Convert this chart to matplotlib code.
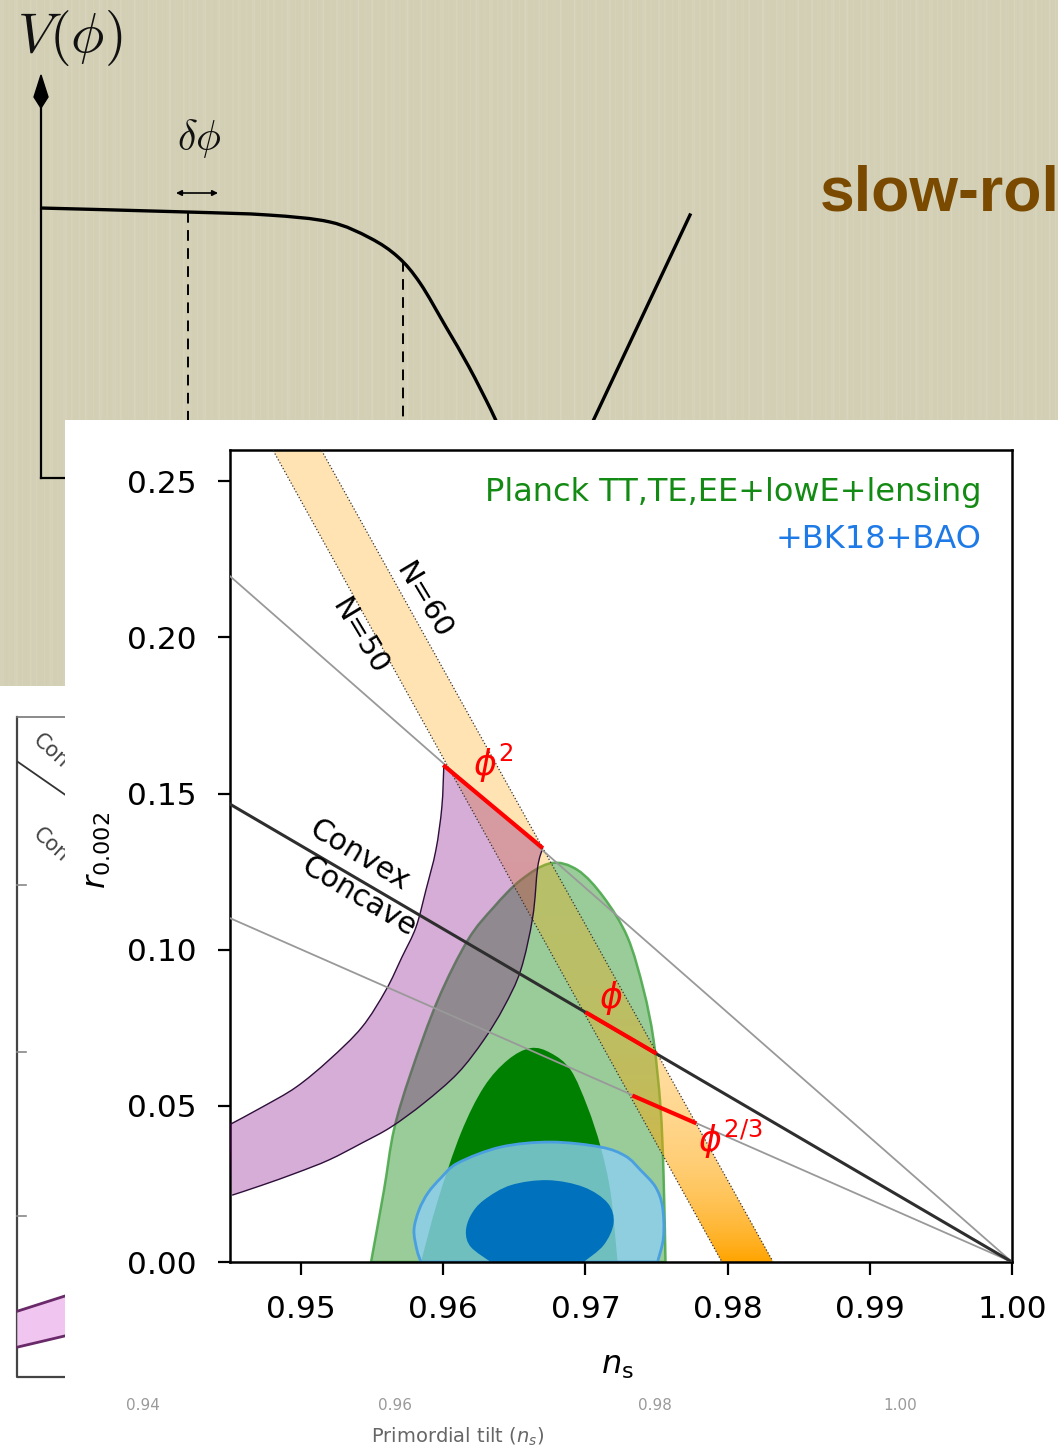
import numpy as np
import matplotlib
matplotlib.use('Agg')
import matplotlib.pyplot as plt
from matplotlib.patches import Polygon, Rectangle, PathPatch
from matplotlib.path import Path

# ---------------- data ----------------
xticks = [0.95, 0.96, 0.97, 0.98, 0.99, 1.00]
yticks = [0.00, 0.05, 0.10, 0.15, 0.20, 0.25]
xlim = [0.945, 1.0]
ylim = [0.0, 0.26]

# straight model lines  [ns0, r0, ns1, r1]
line_phi2 = [0.945, 0.2196, 1.0, 0.0]    # grey
line_phi1 = [0.945, 0.1466, 1.0, 0.0]    # black convex / concave divider
line_phi23 = [0.945, 0.1101, 1.0, 0.0]   # grey

# N = 50 .. 60 red segments
seg_phi2_ns, seg_phi2_r = [0.9600, 0.9670], [0.1591, 0.1325]
seg_phi1_ns, seg_phi1_r = [0.9700, 0.9750], [0.0800, 0.0667]
seg_phi23_ns, seg_phi23_r = [0.9733, 0.9778], [0.0533, 0.0444]

# orange N=50-60 band edges
band_r = [0.27, 0.0]
band_N50_ns = [0.9468, 0.9796]
band_N60_ns = [0.9502, 0.9832]

# purple band (outer N=50 edge top->left, inner N=60 edge left->top)
purple_outer_ns = [0.96004, 0.95990, 0.95948, 0.95878, 0.95808, 0.95709, 0.95597,
                   0.95428, 0.95197, 0.94965, 0.94726, 0.94494]
purple_outer_r = [0.1591, 0.1457, 0.1319, 0.1191, 0.1072, 0.0976, 0.0871,
                  0.0752, 0.0647, 0.0560, 0.0496, 0.0439]
purple_inner_ns = [0.94515, 0.94726, 0.94965, 0.95197, 0.95428, 0.95632, 0.95864,
                   0.96103, 0.96285, 0.96426, 0.96545, 0.96629, 0.96664, 0.96699]
purple_inner_r = [0.0214, 0.0246, 0.0285, 0.0327, 0.0381, 0.0432, 0.0509,
                  0.0605, 0.0711, 0.0816, 0.0935, 0.1104, 0.1264, 0.1325]

# Planck TT,TE,EE+lowE+lensing contours
green2_ns = [0.95492, 0.95583, 0.95653, 0.95772, 0.95962, 0.96173, 0.96355, 0.96545,
             0.96756, 0.96945, 0.97128, 0.97296, 0.97409, 0.97479, 0.97528, 0.97549, 0.97563]
green2_r = [0.0, 0.0230, 0.0423, 0.0605, 0.0839, 0.1031, 0.1136, 0.1223,
            0.1277, 0.1255, 0.1168, 0.1040, 0.0871, 0.0711, 0.0496, 0.0285, 0.0]
green1_ns = [0.95843, 0.95962, 0.96124, 0.96285, 0.96454, 0.96615, 0.96756,
             0.96896, 0.97015, 0.97107, 0.97177, 0.97226]
green1_r = [0.0, 0.0198, 0.0413, 0.0560, 0.0647, 0.0685, 0.0669,
            0.0615, 0.0496, 0.0368, 0.0221, 0.0]

# +BK18+BAO contours
blue2_ns = [0.95843, 0.95815, 0.95794, 0.95829, 0.95892, 0.95983, 0.96103, 0.96404,
            0.96756, 0.97107, 0.97282, 0.97388, 0.97493, 0.97542, 0.97549, 0.97507]
blue2_r = [0.0, 0.0038, 0.0102, 0.0166, 0.0221, 0.0269, 0.0317, 0.0368,
           0.0384, 0.0368, 0.0339, 0.0294, 0.0240, 0.0176, 0.0080, 0.0]
blue1_ns = [0.96334, 0.96194, 0.96159, 0.96194, 0.96285, 0.96475, 0.96735, 0.96987,
            0.97156, 0.97198, 0.97128, 0.96987]
blue1_r = [0.0, 0.0048, 0.0096, 0.0150, 0.0198, 0.0246, 0.0262, 0.0240,
           0.0189, 0.0125, 0.0054, 0.0]

# background slide sketch V(phi) (slide pixel units)
sketch_phi = [40, 187, 268, 330, 370, 398, 420, 446, 469, 491, 502]
sketch_V = [208, 212, 215, 222, 238, 257, 283, 327, 367, 410, 434]
sketch_right_phi = [690, 586]
sketch_right_V = [215, 436]
sketch_dash_phi = [188, 403]
sketch_dash_top = [212, 261]


def smooth(x, y):
    """Bezier (Catmull-Rom) vertices/codes through the read points."""
    P = np.column_stack([x, y]).astype(float)
    n = len(P)
    verts = [P[0]]
    codes = [Path.MOVETO]
    for i in range(n - 1):
        p0 = P[i - 1] if i > 0 else P[i]
        p1, p2 = P[i], P[i + 1]
        p3 = P[i + 2] if i + 2 < n else P[i + 1]
        verts += [p1 + (p2 - p0) / 6.0, p2 - (p3 - p1) / 6.0, p2]
        codes += [Path.CURVE4] * 3
    return verts, codes


def closed_smooth(*parts):
    verts, codes = [], []
    for k, (x, y) in enumerate(parts):
        v, c = smooth(x, y)
        if k > 0:
            c = [Path.LINETO] + c[1:]
        verts += v
        codes += c
    verts.append(verts[0])
    codes.append(Path.CLOSEPOLY)
    return Path(verts, codes)


def open_smooth(x, y):
    v, c = smooth(x, y)
    return Path(v, c)


# ---------------- figure ----------------
W, H = 1058, 1450
fig = plt.figure(figsize=(W / 100, H / 100), dpi=100)

bg = fig.add_axes([0, 0, 1, 1], zorder=0)
bg.axis('off')

# beige textured slide
bg.add_patch(Rectangle((0, 0), W, 690, facecolor='#d3cfb5', edgecolor='none', zorder=0))
xs = np.arange(W)
streak = (0.55 * np.sin(xs * 0.9) + 0.3 * np.sin(xs * 2.3 + 1.0) + 0.25 * np.sin(xs * 0.37 + 2.0))
tex = np.zeros((1, W, 4))
tex[..., 0:3] = 1.0
tex[..., 3] = np.clip(streak, 0, None) * 0.12
bg.imshow(tex, extent=[0, W, 690, 0], aspect='auto', zorder=0.5, interpolation='nearest')
bg.set_xlim(0, W)
bg.set_ylim(H, 0)

# lower-left old chart (white)
bg.add_patch(Rectangle((0, 686), W, H - 686, facecolor='white', edgecolor='none', zorder=1))
bg.plot([17, 17, 200], [717, 1377, 1377], color='#444444', lw=1.6, zorder=1.2)
bg.plot([17, 200], [717, 717], color='#777777', lw=1.2, zorder=1.2)
for ty in [885, 1052, 1216]:
    bg.plot([17, 26], [ty, ty], color='#888888', lw=1.2, zorder=1.2)
bg.plot([18, 90], [762, 812], color='#333333', lw=1.3, zorder=1.2)
bg.text(36, 738, 'Convex', rotation=-42, rotation_mode='anchor', ha='left', va='center',
        fontsize=15, color='#444444', zorder=1.3)
bg.text(36, 832, 'Concave', rotation=-42, rotation_mode='anchor', ha='left', va='center',
        fontsize=15, color='#444444', zorder=1.3)
bg.fill([18, 90, 90, 18], [1311, 1288, 1330, 1347], color='#f0c6f0', zorder=1.2)
bg.plot([18, 90], [1311, 1288], color='#6a2a6a', lw=2, zorder=1.3)
bg.plot([18, 90], [1347, 1330], color='#6a2a6a', lw=2, zorder=1.3)
for tx, tl in zip([143, 395, 655, 900], ['0.94', '0.96', '0.98', '1.00']):
    bg.text(tx, 1406, tl, ha='center', va='center', fontsize=11, color='#9a9a9a', zorder=1.3)
bg.text(458, 1437, r'Primordial tilt ($n_s$)', ha='center', va='center', fontsize=14,
        color='#666666', zorder=1.3)

# potential sketch
bg.plot([41, 41], [478, 100], color='black', lw=1.6, zorder=2)
bg.plot([41, 80], [478, 478], color='black', lw=1.6, zorder=2)
bg.add_patch(Polygon([[41, 75], [34, 97], [41, 108], [48, 97]], closed=True,
                     facecolor='black', edgecolor='black', zorder=2))
bg.add_patch(PathPatch(open_smooth(sketch_phi, sketch_V), facecolor='none', edgecolor='black',
                       lw=2.4, zorder=2))
bg.plot(sketch_right_phi, sketch_right_V, color='black', lw=2.4, zorder=2)
for px, top in zip(sketch_dash_phi, sketch_dash_top):
    bg.plot([px, px], [top, 430], color='black', lw=1.4, linestyle=(0, (5.5, 3.8)), zorder=2)
bg.annotate('', xy=(176, 193), xytext=(218, 193),
            arrowprops=dict(arrowstyle='<|-|>', color='black', lw=1.2,
                            mutation_scale=8, shrinkA=0, shrinkB=0), zorder=2)
bg.text(70, 38, r'$V(\phi)$', math_fontfamily='cm', fontsize=40, ha='center', va='center',
        color='#111111', zorder=2)
bg.text(199, 138, r'$\delta\phi$', math_fontfamily='cm', fontsize=30, ha='center', va='center',
        color='#111111', zorder=2)
bg.text(820, 210, 'slow-rol', fontsize=45, fontweight='bold', family='Liberation Sans',
        color='#7a4a00', ha='left', va='baseline', zorder=2)

# white panel of the Planck figure
bg.add_patch(Rectangle((65, 420), W - 65 + 5, 970, facecolor='white', edgecolor='none', zorder=5))

# ---------------- main Planck axes ----------------
ax = fig.add_axes([230 / W, 1 - 1262 / H, (1012 - 230) / W, (1262 - 450) / H], zorder=2)
ax.set_facecolor('white')

# green contours
ax.add_patch(PathPatch(closed_smooth((green2_ns, green2_r)),
                       facecolor=(0.0, 0.5, 0.0, 0.40), edgecolor=(0.30, 0.66, 0.30, 0.9),
                       lw=1.8, zorder=2))
ax.add_patch(PathPatch(closed_smooth((green1_ns, green1_r)),
                       facecolor='#008000', edgecolor='none', zorder=2.1))
# blue contours
ax.add_patch(PathPatch(closed_smooth((blue2_ns, blue2_r)),
                       facecolor=(0.55, 0.81, 0.94, 0.80), edgecolor='#4a9fe0',
                       lw=2.0, zorder=2.2))
ax.add_patch(PathPatch(closed_smooth((blue1_ns, blue1_r)),
                       facecolor='#0071bd', edgecolor='none', zorder=2.3))

# orange band with gradient
band_xy = np.array([[band_N50_ns[0], band_r[0]], [band_N50_ns[1], band_r[1]],
                    [band_N60_ns[1], band_r[1]], [band_N60_ns[0], band_r[0]]])
clip = Polygon(band_xy, closed=True, facecolor='none', edgecolor='none', transform=ax.transData)
ax.add_patch(clip)
rr = np.linspace(0, 0.27, 400)[:, None]
grad = np.zeros((400, 2, 4))
grad[..., 0] = 1.0
grad[..., 1] = 0.647
grad[..., 2] = 0.0
grad[..., 3] = (0.30 + 0.70 * np.exp(-rr / 0.03)) * np.ones((1, 2))
im = ax.imshow(grad, extent=[0.94, 1.0, 0, 0.27], origin='lower', aspect='auto',
               interpolation='bilinear', zorder=2.5)
im.set_clip_path(clip)
ax.plot(band_N50_ns, band_r, linestyle=':', color='#333333', lw=0.9, zorder=3.5)
ax.plot(band_N60_ns, band_r, linestyle=':', color='#333333', lw=0.9, zorder=3.5)

# purple band
ax.add_patch(PathPatch(closed_smooth((purple_outer_ns, purple_outer_r),
                                     (purple_inner_ns, purple_inner_r)),
                       facecolor=(0.5, 0.0, 0.5, 0.32), edgecolor='none', zorder=3))
ax.add_patch(PathPatch(open_smooth(purple_outer_ns, purple_outer_r), facecolor='none',
                       edgecolor='#2d0f3a', lw=1.0, zorder=3.2))
ax.add_patch(PathPatch(open_smooth(purple_inner_ns, purple_inner_r), facecolor='none',
                       edgecolor='#2d0f3a', lw=1.0, zorder=3.2))

# model lines
ax.plot(line_phi2[0::2], line_phi2[1::2], color='#999999', lw=1.3, zorder=4)
ax.plot(line_phi23[0::2], line_phi23[1::2], color='#999999', lw=1.3, zorder=4)
ax.plot(line_phi1[0::2], line_phi1[1::2], color='#2e2e2e', lw=2.2, zorder=4)

# red N=50-60 segments
for sx, sy in [(seg_phi2_ns, seg_phi2_r), (seg_phi1_ns, seg_phi1_r), (seg_phi23_ns, seg_phi23_r)]:
    ax.plot(sx, sy, color='red', lw=3.0, zorder=5, solid_capstyle='butt')

# labels inside
ax.text(0.96208, 0.1597, r'$\phi^2$', color='red', fontsize=25, ha='left', va='center', zorder=6)
ax.text(0.97177, 0.0845, r'$\phi$', color='red', fontsize=25, ha='center', va='center', zorder=6)
ax.text(0.97795, 0.0391, r'$\phi^{2/3}$', color='red', fontsize=25, ha='left', va='center', zorder=6)
ax.text(0.95407, 0.1303, 'Convex', rotation=-31, rotation_mode='anchor', fontsize=21.5,
        ha='center', va='center', zorder=6)
ax.text(0.95407, 0.1169, 'Concave', rotation=-31, rotation_mode='anchor', fontsize=21.5,
        ha='center', va='center', zorder=6)
ax.text(0.95407, 0.2004, 'N=50', rotation=-59, rotation_mode='anchor', fontsize=21,
        ha='center', va='center', zorder=6)
ax.text(0.95857, 0.2119, 'N=60', rotation=-59, rotation_mode='anchor', fontsize=21,
        ha='center', va='center', zorder=6)
ax.text(0.9616, 0.948, 'Planck TT,TE,EE+lowE+lensing', color='#138a13', fontsize=23,
        ha='right', va='center', transform=ax.transAxes, zorder=6)
ax.text(0.9616, 0.890, '+BK18+BAO', color='#1e7ae6', fontsize=23,
        ha='right', va='center', transform=ax.transAxes, zorder=6)

ax.set_xlim(xlim)
ax.set_ylim(ylim)
ax.set_xticks(xticks)
ax.set_yticks(yticks)
ax.set_xticklabels([f'{v:.2f}' for v in xticks])
ax.set_yticklabels([f'{v:.2f}' for v in yticks])
ax.tick_params(direction='out', length=9, width=1.6, pad=15, labelsize=22.5)
for s in ax.spines.values():
    s.set_linewidth(1.8)
ax.text(-0.170, 0.507, r'$r_{0.002}$', rotation=90, fontsize=23, ha='center', va='center',
        transform=ax.transAxes)
ax.text(0.496, -0.127, r'$n_{\rm s}$', fontsize=23, ha='center', va='center',
        transform=ax.transAxes)

fig.savefig('out.png', dpi=100)
